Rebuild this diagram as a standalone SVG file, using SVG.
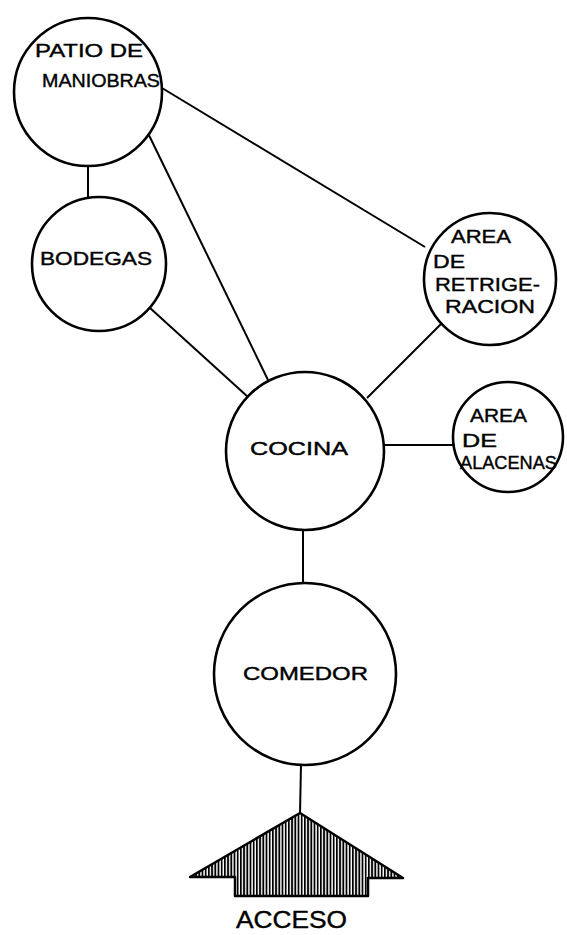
<svg xmlns="http://www.w3.org/2000/svg" width="567" height="935" viewBox="0 0 567 935">
<style>
.node{fill:#fff;stroke:#000;stroke-width:2.6}
.edge{stroke:#000;stroke-width:2;fill:none}
.t{font-family:"Liberation Sans",Arial,sans-serif;font-size:19px;fill:#000;stroke:#000;stroke-width:0.4}
</style>
<defs>
<pattern id="hatch" patternUnits="userSpaceOnUse" width="3.2" height="10">
<rect width="3.2" height="10" fill="#fff"/>
<rect x="0" width="1.8" height="10" fill="#000"/>
</pattern>
</defs>
<rect width="567" height="935" fill="#fff"/>
<g id="connectors">
<line class="edge" x1="88" y1="165" x2="88" y2="197"/>
<line class="edge" x1="145" y1="127" x2="268" y2="380"/>
<line class="edge" x1="162" y1="88" x2="425" y2="247"/>
<line class="edge" x1="150" y1="308" x2="248" y2="397"/>
<line class="edge" x1="443" y1="322" x2="367" y2="398"/>
<line class="edge" x1="384" y1="445" x2="453" y2="445"/>
<line class="edge" x1="303" y1="530" x2="303" y2="584"/>
<line class="edge" x1="301" y1="764" x2="300" y2="814"/>
</g>
<g id="patio">
<circle class="node" cx="88" cy="92" r="74"/>
<text class="t" x="35" y="57" textLength="108" lengthAdjust="spacingAndGlyphs">PATIO DE</text>
<text class="t" x="42" y="87" textLength="118" lengthAdjust="spacingAndGlyphs">MANIOBRAS</text>
</g>
<g id="bodegas">
<circle class="node" cx="99" cy="264" r="67"/>
<text class="t" x="40" y="265" textLength="112" lengthAdjust="spacingAndGlyphs">BODEGAS</text>
</g>
<g id="refrigeracion">
<circle class="node" cx="490" cy="279" r="66"/>
<text class="t" x="451" y="243" textLength="60" lengthAdjust="spacingAndGlyphs">AREA</text>
<text class="t" x="433" y="268" textLength="32" lengthAdjust="spacingAndGlyphs">DE</text>
<text class="t" x="435" y="291" textLength="105" lengthAdjust="spacingAndGlyphs">RETRIGE-</text>
<text class="t" x="445" y="313" textLength="90" lengthAdjust="spacingAndGlyphs">RACION</text>
</g>
<g id="alacenas">
<circle class="node" cx="508" cy="437" r="55"/>
<text class="t" x="470" y="422" textLength="57" lengthAdjust="spacingAndGlyphs">AREA</text>
<text class="t" x="462" y="447" textLength="35" lengthAdjust="spacingAndGlyphs">DE</text>
<text class="t" x="460" y="469" textLength="97" lengthAdjust="spacingAndGlyphs">ALACENAS</text>
</g>
<g id="cocina">
<circle class="node" cx="305" cy="451" r="79"/>
<text class="t" x="250" y="455" textLength="98" lengthAdjust="spacingAndGlyphs">COCINA</text>
</g>
<g id="comedor">
<circle class="node" cx="305" cy="674" r="91"/>
<text class="t" x="243" y="680" textLength="125" lengthAdjust="spacingAndGlyphs">COMEDOR</text>
</g>
<g id="acceso">
<polygon points="300,813 403,878 368,878 368,896 235,896 235,877 190,877" fill="url(#hatch)" stroke="#000" stroke-width="2.5" stroke-linejoin="round"/>
<text class="t" x="236" y="928" style="font-size:24px" textLength="111" lengthAdjust="spacingAndGlyphs">ACCESO</text>
</g>
</svg>
